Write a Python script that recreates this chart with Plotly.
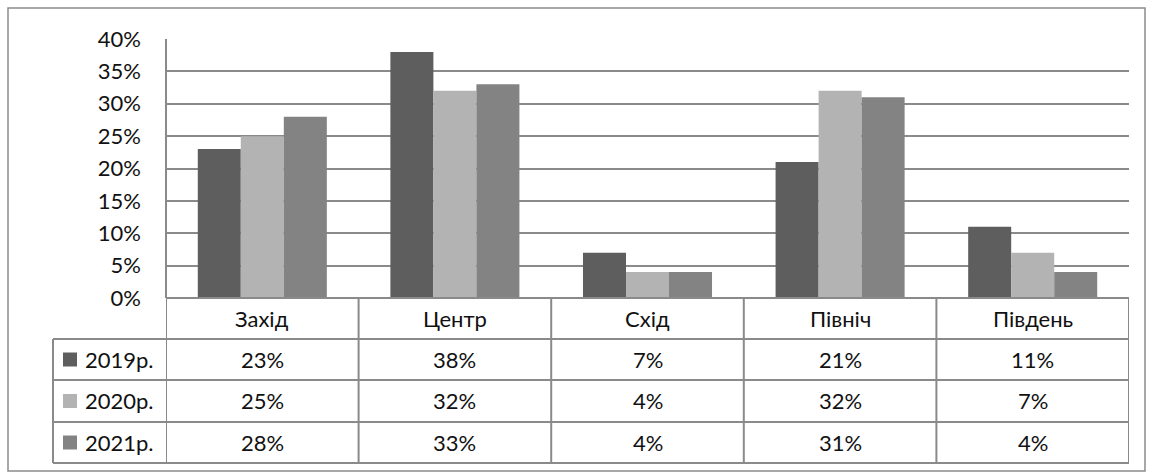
import plotly.graph_objects as go

# Regions and yearly shares
regions = ["Захід", "Центр", "Схід", "Північ", "Південь"]
years = ["2019р.", "2020р.", "2021р."]
share_2019 = [0.23, 0.38, 0.07, 0.21, 0.11]
share_2020 = [0.25, 0.32, 0.04, 0.32, 0.07]
share_2021 = [0.28, 0.33, 0.04, 0.31, 0.04]
y_ticks = [0, 0.05, 0.10, 0.15, 0.20, 0.25, 0.30, 0.35, 0.40]
series = [share_2019, share_2020, share_2021]
colors = ["#5e5e5e", "#b3b3b3", "#838383"]

W, H = 1153, 472
L, R, T, B = 166, 1129, 39, 298  # plot area in pixels
FONT = "Lato"
FS = 22
LINE = "#8a8a8a"


def px(xp):
    return (xp - L) / (R - L)


def py(yp):
    return (B - yp) / (B - T)


fig = go.Figure()
for name, vals, col in zip(years, series, colors):
    fig.add_trace(go.Bar(x=list(range(len(regions))), y=vals, name=name,
                         marker=dict(color=col, line=dict(width=0)),
                         showlegend=False))

shapes = []
# outer chart border
shapes.append(dict(type="rect", xref="paper", yref="paper",
                   x0=px(8), x1=px(1145), y0=py(471), y1=py(8),
                   line=dict(color="#8c8c8c", width=1.5)))

# data table rows
row_edges = [298, 339, 380, 422, 463]
tbl_left = 53
# horizontal lines
shapes.append(dict(type="line", xref="paper", yref="paper", x0=0, x1=1,
                   y0=py(row_edges[0]), y1=py(row_edges[0]),
                   line=dict(color=LINE, width=2)))
for e in row_edges[1:]:
    shapes.append(dict(type="line", xref="paper", yref="paper",
                       x0=px(tbl_left), x1=1, y0=py(e), y1=py(e),
                       line=dict(color=LINE, width=2)))
# vertical lines at category boundaries
for k in range(len(regions) + 1):
    shapes.append(dict(type="line", xref="x", yref="paper",
                       x0=k - 0.5, x1=k - 0.5,
                       y0=py(row_edges[0]), y1=py(row_edges[-1]),
                       line=dict(color=LINE, width=2)))
shapes.append(dict(type="line", xref="paper", yref="paper",
                   x0=px(tbl_left), x1=px(tbl_left),
                   y0=py(row_edges[1]), y1=py(row_edges[-1]),
                   line=dict(color=LINE, width=2)))
# y axis line
shapes.append(dict(type="line", xref="paper", yref="paper", x0=0, x1=0,
                   y0=0, y1=1, line=dict(color=LINE, width=2)))

annotations = []
for k, reg in enumerate(regions):
    annotations.append(dict(xref="x", yref="paper", x=k,
                            y=py((row_edges[0] + row_edges[1]) / 2),
                            text=reg, showarrow=False,
                            font=dict(family=FONT, size=FS, color="#111"),
                            xanchor="center", yanchor="middle"))
for r, (name, vals, col) in enumerate(zip(years, series, colors)):
    yc = (row_edges[r + 1] + row_edges[r + 2]) / 2
    shapes.append(dict(type="rect", xref="paper", yref="paper",
                       x0=px(63), x1=px(77), y0=py(yc + 7), y1=py(yc - 7),
                       fillcolor=col, line=dict(width=0)))
    annotations.append(dict(xref="paper", yref="paper", x=px(83), y=py(yc),
                            text=name, showarrow=False,
                            font=dict(family=FONT, size=FS, color="#111"),
                            xanchor="left", yanchor="middle"))
    for k, v in enumerate(vals):
        annotations.append(dict(xref="x", yref="paper", x=k, y=py(yc),
                                text=f"{round(v * 100)}%", showarrow=False,
                                font=dict(family=FONT, size=FS, color="#111"),
                                xanchor="center", yanchor="middle"))

fig.update_layout(
    width=W, height=H,
    margin=dict(l=L, r=W - R, t=T, b=H - B, pad=0),
    paper_bgcolor="white", plot_bgcolor="white",
    barmode="group", bargap=0.33, bargroupgap=0,
    xaxis=dict(range=[-0.5, len(regions) - 0.5], showticklabels=False,
               showgrid=False, zeroline=False, ticks=""),
    yaxis=dict(range=[0, 0.4], tickvals=y_ticks, tickformat=".0%",
               showgrid=True, gridcolor=LINE, gridwidth=2,
               zeroline=False, ticks="", ticklabelstandoff=24,
               tickfont=dict(family=FONT, size=FS, color="#111")),
    shapes=shapes, annotations=annotations,
)

fig.write_html("out.html")
